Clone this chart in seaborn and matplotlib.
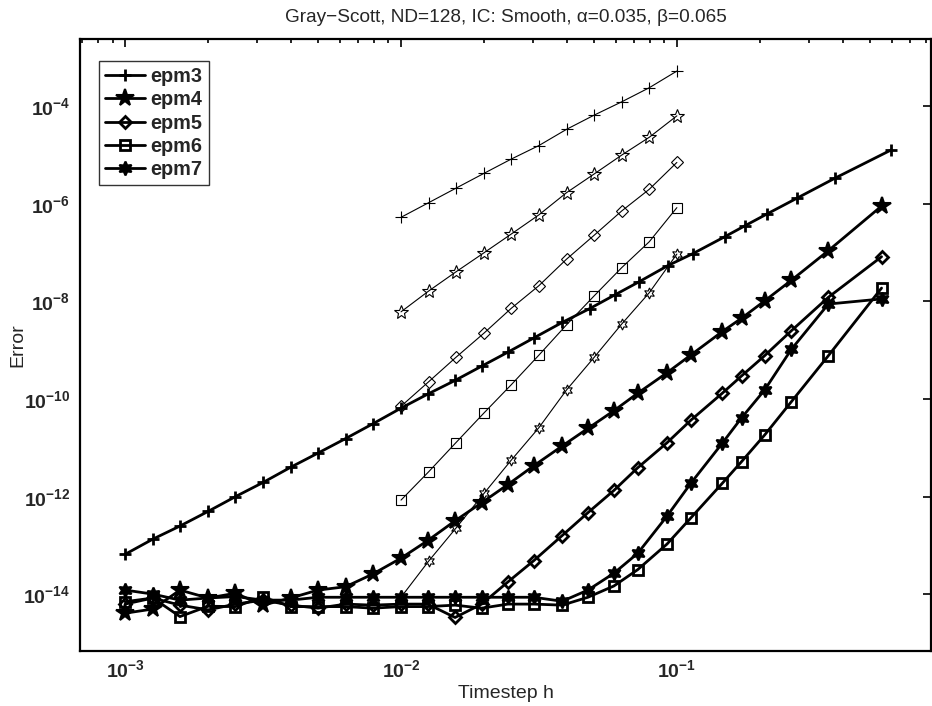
import matplotlib
matplotlib.use("Agg")
import matplotlib.pyplot as plt
from matplotlib.ticker import FixedLocator, LogLocator, FuncFormatter, NullFormatter, NullLocator
import numpy as np
import seaborn as sns

# timestep values
h_epm3 = [1.0e-3, 1.26e-3, 1.58e-3, 2.0e-3, 2.51e-3, 3.16e-3, 3.98e-3, 5.0e-3, 6.3e-3, 7.9e-3,
          1.0e-2, 1.25e-2, 1.57e-2, 1.96e-2, 2.44e-2, 3.03e-2, 3.84e-2, 4.83e-2, 5.95e-2,
          0.0728, 0.0928, 0.1143, 0.149, 0.176, 0.2126, 0.272, 0.373, 0.598]
h_epm = [1.0e-3, 1.26e-3, 1.58e-3, 2.0e-3, 2.51e-3, 3.16e-3, 3.98e-3, 5.0e-3, 6.3e-3, 7.9e-3,
         1.0e-2, 1.25e-2, 1.57e-2, 1.96e-2, 2.44e-2, 3.03e-2, 3.84e-2, 4.76e-2, 5.91e-2,
         0.0721, 0.0921, 0.1125, 0.146, 0.1715, 0.208, 0.26, 0.354, 0.552]
h_ref = [1.0e-2, 1.26e-2, 1.58e-2, 2.0e-2, 2.51e-2, 3.16e-2, 3.98e-2, 5.01e-2, 6.31e-2, 7.94e-2, 1.0e-1]

# measured errors (thick lines)
err_epm3 = [6.6e-14, 1.35e-13, 2.5e-13, 5.0e-13, 1.0e-12, 1.95e-12, 4.0e-12, 7.8e-12, 1.55e-11, 3.1e-11,
            6.5e-11, 1.26e-10, 2.4e-10, 4.7e-10, 9.1e-10, 1.78e-9, 3.7e-9, 7.1e-9, 1.35e-8, 2.5e-8,
            5.4e-8, 9.5e-8, 2.1e-7, 3.5e-7, 6.2e-7, 1.29e-6, 3.3e-6, 1.26e-5]
err_epm4 = [4.1e-15, 5.0e-15, 1.22e-14, 8.4e-15, 1.05e-14, 6.0e-15, 8.4e-15, 1.22e-14, 1.43e-14, 2.6e-14,
            5.5e-14, 1.26e-13, 3.2e-13, 7.5e-13, 1.77e-12, 4.3e-12, 1.09e-11, 2.5e-11, 5.75e-11, 1.31e-10,
            3.45e-10, 8.0e-10, 2.4e-9, 4.5e-9, 1.02e-8, 2.7e-8, 1.09e-7, 8.95e-7]
err_epm5 = [6.3e-15, 8.4e-15, 6.0e-15, 4.8e-15, 6.3e-15, 7.6e-15, 6.0e-15, 5.2e-15, 6.3e-15, 6.0e-15,
            6.3e-15, 6.3e-15, 3.35e-15, 6.3e-15, 1.79e-14, 4.9e-14, 1.6e-13, 4.7e-13, 1.34e-12, 3.9e-12,
            1.27e-11, 3.7e-11, 1.31e-10, 2.96e-10, 7.7e-10, 2.5e-9, 1.21e-8, 8.2e-8]
err_epm6 = [7.05e-15, 8.4e-15, 3.5e-15, 5.7e-15, 5.6e-15, 8.8e-15, 5.6e-15, 5.6e-15, 5.6e-15, 5.2e-15,
            5.6e-15, 5.6e-15, 6.0e-15, 5.2e-15, 6.3e-15, 6.3e-15, 6.0e-15, 8.7e-15, 1.48e-14, 3.2e-14,
            1.07e-13, 3.7e-13, 1.87e-12, 5.2e-12, 1.83e-11, 8.8e-11, 7.7e-10, 1.87e-8]
err_epm7 = [1.22e-14, 1.01e-14, 7.6e-15, 8.4e-15, 9.0e-15, 7.6e-15, 7.6e-15, 8.7e-15, 8.7e-15, 8.7e-15,
            8.7e-15, 8.7e-15, 8.7e-15, 8.7e-15, 8.7e-15, 8.7e-15, 7.2e-15, 1.22e-14, 2.7e-14, 6.9e-14,
            4.0e-13, 1.9e-12, 1.24e-11, 4.1e-11, 1.53e-10, 1.04e-9, 8.8e-9, 1.12e-8]

# reference slopes (thin lines)
ref3 = [5.26e-7, 1.05e-6, 2.07e-6, 4.19e-6, 8.2e-6, 1.55e-5, 3.33e-5, 6.5e-5, 1.22e-4, 2.37e-4, 5.2e-4]
ref4 = [6.1e-9, 1.63e-8, 4.0e-8, 9.9e-8, 2.39e-7, 5.9e-7, 1.68e-6, 4.05e-6, 9.9e-6, 2.29e-5, 6.3e-5]
ref5 = [7.1e-11, 2.26e-10, 7.1e-10, 2.24e-9, 7.2e-9, 2.09e-8, 7.3e-8, 2.25e-7, 7.1e-7, 1.97e-6, 7.0e-6]
ref6 = [8.5e-13, 3.24e-12, 1.27e-11, 5.2e-11, 1.96e-10, 7.9e-10, 3.3e-9, 1.29e-8, 4.9e-8, 1.66e-7, 8.3e-7]
ref7 = [8.7e-15, 4.8e-14, 2.25e-13, 1.17e-12, 5.6e-12, 2.58e-11, 1.53e-10, 7.1e-10, 3.43e-9, 1.5e-8, 9.3e-8]

labels = ["epm3", "epm4", "epm5", "epm6", "epm7"]

sns.set_theme(style="white")
plt.rcParams["font.family"] = ["Liberation Sans", "DejaVu Sans"]
plt.rcParams["mathtext.fontset"] = "custom"
plt.rcParams["mathtext.rm"] = "Liberation Sans"
plt.rcParams["mathtext.bf"] = "Liberation Sans:bold"
plt.rcParams["axes.edgecolor"] = "black"
plt.rcParams["axes.linewidth"] = 1.6

hexagram = (6, 1, 0)

fig = plt.figure(figsize=(9.32, 7.06), dpi=100)
ax = fig.add_axes([80 / 932, 1 - 651 / 706, 851 / 932, 612 / 706])
ax.set_xscale("log")
ax.set_yscale("log")


def draw(h, err, marker, ms, lw, mew, mfc):
    sns.lineplot(x=h, y=err, ax=ax, color="black", linewidth=lw, marker=marker,
                 markersize=ms, markeredgewidth=mew, markeredgecolor="black",
                 markerfacecolor=mfc, sort=False, errorbar=None)
    return ax.lines[-1]


thick = [
    draw(h_epm3, err_epm3, "+", 8, 2.0, 2.0, "none"),
    draw(h_epm, err_epm4, "*", 13, 2.0, 1.5, "black"),
    draw(h_epm, err_epm5, "D", 6, 2.0, 2.0, "none"),
    draw(h_epm, err_epm6, "s", 7, 2.0, 2.0, "none"),
    draw(h_epm, err_epm7, hexagram, 10, 2.0, 1.5, "black"),
]
draw(h_ref, ref3, "+", 9, 0.8, 0.8, "none")
draw(h_ref, ref4, "*", 10, 0.8, 0.8, "none")
draw(h_ref, ref5, "D", 6, 0.8, 0.8, "none")
draw(h_ref, ref6, "s", 7.5, 0.8, 0.8, "none")
draw(h_ref, ref7, hexagram, 8, 0.8, 0.8, "none")

ax.set_xlim(6.86e-4, 0.834)
ax.set_ylim(6.9e-16, 2.36e-3)

fmt = FuncFormatter(lambda v, pos: r"$\mathbf{10^{%d}}$" % int(round(np.log10(v))))
ax.xaxis.set_major_locator(FixedLocator([1e-3, 1e-2, 1e-1]))
ax.xaxis.set_minor_locator(LogLocator(base=10, subs=np.arange(2, 10)))
ax.xaxis.set_minor_formatter(NullFormatter())
ax.xaxis.set_major_formatter(fmt)
ax.yaxis.set_major_locator(FixedLocator([1e-14, 1e-12, 1e-10, 1e-8, 1e-6, 1e-4]))
ax.yaxis.set_minor_locator(NullLocator())
ax.yaxis.set_major_formatter(fmt)
ax.tick_params(which="both", direction="in", top=True, right=True, color="black",
               width=1.2, labelsize=14)
ax.tick_params(which="major", length=6)
ax.tick_params(which="minor", length=3)
ax.tick_params(axis="y", pad=7)
ax.tick_params(axis="x", pad=6)
for s in ax.spines.values():
    s.set_visible(True)
    s.set_linewidth(1.6)

ax.set_title("Gray\u2212Scott, ND=128, IC: Smooth, \u03b1=0.035, \u03b2=0.065", fontsize=13.7, pad=12)
ax.set_xlabel("Timestep h", fontsize=14, labelpad=3)
ax.set_ylabel("Error", fontsize=14, labelpad=-2)

leg = ax.legend(thick, labels, loc="upper left", bbox_to_anchor=(19 / 851, 1 - 22 / 612),
                borderaxespad=0, frameon=True, fancybox=False, shadow=False,
                prop={"weight": "bold", "size": 14.3}, handlelength=2.0, handletextpad=0.3,
                labelspacing=0.22, borderpad=0.3, numpoints=1)
leg.get_frame().set_edgecolor("black")
leg.get_frame().set_linewidth(1.0)

fig.savefig("out.png", dpi=100, facecolor="white")
